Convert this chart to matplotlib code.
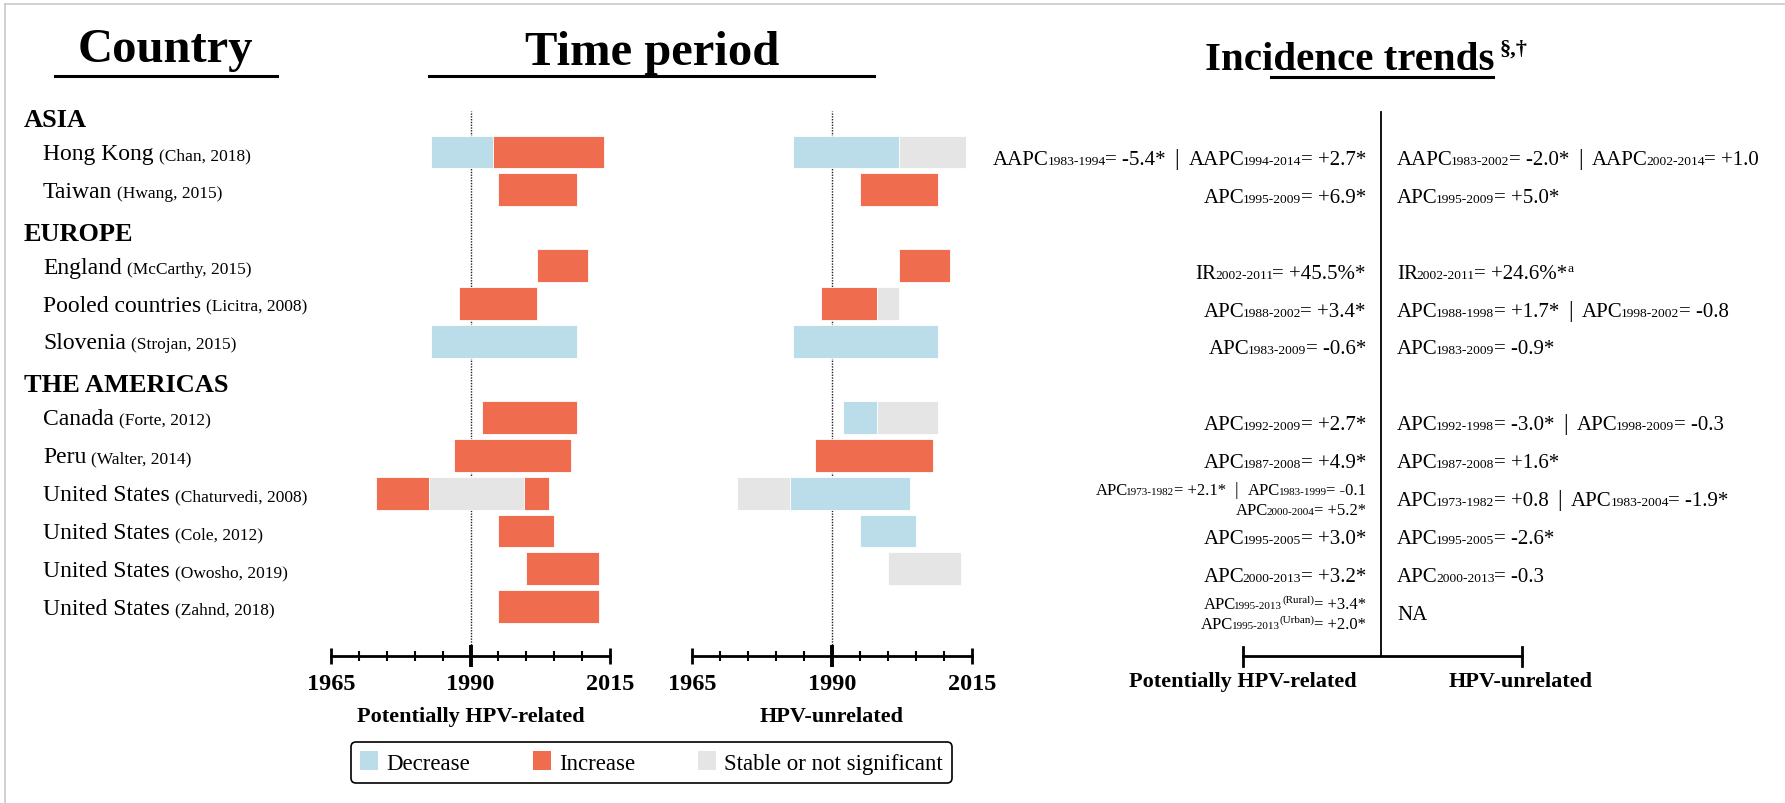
import matplotlib.pyplot as plt
from matplotlib.patches import Patch

plt.rcParams['font.family'] = ['Liberation Serif', 'DejaVu Serif']

W, H = 1785, 804

# studies grouped by region
regions = ["ASIA", "EUROPE", "THE AMERICAS"]
region_sizes = [2, 3, 6]
countries = ["Hong Kong", "Taiwan", "England", "Pooled countries", "Slovenia",
             "Canada", "Peru", "United States", "United States",
             "United States", "United States"]
citations = ["(Chan, 2018)", "(Hwang, 2015)", "(McCarthy, 2015)", "(Licitra, 2008)",
             "(Strojan, 2015)", "(Forte, 2012)", "(Walter, 2014)", "(Chaturvedi, 2008)",
             "(Cole, 2012)", "(Owosho, 2019)", "(Zahnd, 2018)"]

# (start, end, trend) segments per study
hpv_related = [
    [(1983, 1994, "dec"), (1994, 2014, "inc")],
    [(1995, 2009, "inc")],
    [(2002, 2011, "inc")],
    [(1988, 2002, "inc")],
    [(1983, 2009, "dec")],
    [(1992, 2009, "inc")],
    [(1987, 2008, "inc")],
    [(1973, 1982.5, "inc"), (1982.5, 1999.5, "ns"), (1999.5, 2004, "inc")],
    [(1995, 2005, "inc")],
    [(2000, 2013, "inc")],
    [(1995, 2013, "inc")],
]
hpv_unrelated = [
    [(1983, 2002, "dec"), (2002, 2014, "ns")],
    [(1995, 2009, "inc")],
    [(2002, 2011, "inc")],
    [(1988, 1998, "inc"), (1998, 2002, "ns")],
    [(1983, 2009, "dec")],
    [(1992, 1998, "dec"), (1998, 2009, "ns")],
    [(1987, 2008, "inc")],
    [(1973, 1982.5, "ns"), (1982.5, 2004, "dec")],
    [(1995, 2005, "dec")],
    [(2000, 2013, "ns")],
    [],
]

# (measure, years, superscript, value, trailing mark) per line
trend_related = [
    [[("AAPC", "1983-1994", "", "= -5.4*", ""), ("AAPC", "1994-2014", "", "= +2.7*", "")]],
    [[("APC", "1995-2009", "", "= +6.9*", "")]],
    [[("IR", "2002-2011", "", "= +45.5%*", "")]],
    [[("APC", "1988-2002", "", "= +3.4*", "")]],
    [[("APC", "1983-2009", "", "= -0.6*", "")]],
    [[("APC", "1992-2009", "", "= +2.7*", "")]],
    [[("APC", "1987-2008", "", "= +4.9*", "")]],
    [[("APC", "1973-1982", "", "= +2.1*", ""), ("APC", "1983-1999", "", "= -0.1", "")],
     [("APC", "2000-2004", "", "= +5.2*", "")]],
    [[("APC", "1995-2005", "", "= +3.0*", "")]],
    [[("APC", "2000-2013", "", "= +3.2*", "")]],
    [[("APC", "1995-2013", "(Rural)", "= +3.4*", "")],
     [("APC", "1995-2013", "(Urban)", "= +2.0*", "")]],
]
trend_unrelated = [
    [[("AAPC", "1983-2002", "", "= -2.0*", ""), ("AAPC", "2002-2014", "", "= +1.0", "")]],
    [[("APC", "1995-2009", "", "= +5.0*", "")]],
    [[("IR", "2002-2011", "", "= +24.6%*", "a")]],
    [[("APC", "1988-1998", "", "= +1.7*", ""), ("APC", "1998-2002", "", "= -0.8", "")]],
    [[("APC", "1983-2009", "", "= -0.9*", "")]],
    [[("APC", "1992-1998", "", "= -3.0*", ""), ("APC", "1998-2009", "", "= -0.3", "")]],
    [[("APC", "1987-2008", "", "= +1.6*", "")]],
    [[("APC", "1973-1982", "", "= +0.8", ""), ("APC", "1983-2004", "", "= -1.9*", "")]],
    [[("APC", "1995-2005", "", "= -2.6*", "")]],
    [[("APC", "2000-2013", "", "= -0.3", "")]],
    [[("NA", "", "", "", "")]],
]

year_ticks = [1965, 1990, 2015]
tick_labels = ["1965", "1990", "2015"]
colors = {"dec": "#BBDCE9", "inc": "#F06C4E", "ns": "#E5E5E5"}
legend_keys = ["dec", "inc", "ns"]
legend_labels = ["Decrease", "Increase", "Stable or not significant"]

# row slots: a header row for each region followed by its studies
region_slots, country_slots = [], []
s = 0
for n in region_sizes:
    region_slots.append(s)
    s += 1
    country_slots.extend(range(s, s + n))
    s += n


def row_px(slot):
    return 115.1 + 37.9 * slot


fig = plt.figure(figsize=(W / 100, H / 100), dpi=100)
ov = fig.add_axes([0, 0, 1, 1])
ov.set_xlim(0, W)
ov.set_ylim(H, 0)
ov.axis('off')
rend = fig.canvas.get_renderer()


def run(x, y, pieces, ha='left', **kw):
    """Lay out text pieces of mixed size side by side on one baseline."""
    pieces = [p for p in pieces if p[0]]
    arts = [ov.text(0, y - rise, t, fontsize=sz, va='baseline', ha='left', **kw)
            for t, sz, rise, gap in pieces]
    widths = [a.get_window_extent(rend).width for a in arts]
    total = sum(w + p[3] for w, p in zip(widths, pieces))
    cur = {'left': x, 'right': x - total, 'center': x - total / 2}[ha]
    for a, w, p in zip(arts, widths, pieces):
        cur += p[3]
        a.set_x(cur)
        cur += w
    return cur


def trend_pieces(line, big, small, rise):
    out = []
    for k, (meas, yrs, sup, val, post) in enumerate(line):
        gap = 0
        if k:
            out.append(("|", big * 1.1, 0, 9))
            gap = 9
        out.append((meas, big, 0, gap))
        out.append((yrs, small, 0, -1.5))
        out.append((sup, small, rise, 0))
        out.append((val, big, 0, -0.5))
        out.append((post, small, rise, 0.5))
    return out


y_top = (100 - 115.1) / 37.9
y_bot = (657 - 115.1) / 37.9


def draw_panel(x0, x1, periods, title):
    ax = fig.add_axes([x0 / W, 1 - 657 / H, (x1 - x0) / W, (657 - 100) / H])
    ax.set_xlim(1965, 2015)
    ax.set_ylim(y_bot, y_top)
    ax.patch.set_visible(False)
    for sp in ['top', 'left', 'right']:
        ax.spines[sp].set_visible(False)
    ax.spines['bottom'].set_linewidth(2)
    ax.set_yticks([])
    ax.axvline(1990, ymax=(657 - 112) / (657 - 100), color='#222222', lw=1,
               ls=(0, (1, 1)), zorder=1)
    for slot, segs in zip(country_slots, periods):
        for a, b, kind in segs:
            ax.barh(slot, b - a, left=a, height=0.87, color=colors[kind],
                    edgecolor='white', lw=0.6, zorder=2)
    ax.set_xticks(year_ticks)
    ax.set_xticklabels(tick_labels, fontweight='bold', fontsize=17.5)
    ax.set_xticks(range(1965, 2016, 5), minor=True)
    ax.tick_params(axis='x', which='major', direction='inout', length=11, width=2, pad=7)
    ax.tick_params(axis='x', which='minor', direction='inout', length=6.5, width=1.5)
    mid = ax.xaxis.get_major_ticks()[1]
    mid.tick1line.set_markersize(16)
    mid.tick1line.set_markeredgewidth(2.8)
    ov.text((x0 + x1) / 2, 722, title, ha='center', va='baseline', fontsize=16,
            fontweight='bold')


# light frame on top and left edge
ov.plot([5, W], [5, 5], color='#C8C8C8', lw=1.2)
ov.plot([5, 5], [5, H], color='#C8C8C8', lw=1.2)

# column headers
ov.text(165, 62, "Country", ha='center', va='baseline', fontsize=35, fontweight='bold')
ov.plot([55, 277], [77, 77], color='black', lw=2.2)
ov.text(652, 65, "Time period", ha='center', va='baseline', fontsize=35, fontweight='bold')
ov.plot([429, 874], [77, 77], color='black', lw=2.2)
end = run(1350, 70, [("Incidence trends", 29.5, 0, 0)], 'center', fontweight='bold')
ov.text(end + 5, 55, "§,†", fontsize=16, fontweight='bold', va='baseline')
ov.plot([1271, 1493], [78, 78], color='black', lw=2.2)

# region headers and study labels
for slot, reg in zip(region_slots, regions):
    ov.text(24, row_px(slot) + 12, reg, fontsize=19, fontweight='bold', va='baseline')
for slot, name, cite in zip(country_slots, countries, citations):
    run(43, row_px(slot) + 7, [(name, 17, 0, 0), (cite, 12.5, 0, 5)])

# time period panels
draw_panel(331, 610, hpv_related, "Potentially HPV-related")
draw_panel(692, 972, hpv_unrelated, "HPV-unrelated")


def draw_trends(trends, x, ha):
    for slot, lines in zip(country_slots, trends):
        y0 = row_px(slot)
        if len(lines) == 1:
            run(x, y0 + 12, trend_pieces(lines[0], 15, 9.7, 7), ha)
        else:
            for j, line in enumerate(lines):
                run(x, y0 + 1 + 20 * j, trend_pieces(line, 12, 8, 6), ha)


draw_trends(trend_related, 1366, 'right')
draw_trends(trend_unrelated, 1397, 'left')

# divider and bottom scale of the trends column
ov.plot([1381, 1381], [113, 657], color='black', lw=1.3)
ov.plot([1243, 1522], [657, 657], color='black', lw=2)
for xx in (1243, 1522):
    ov.plot([xx, xx], [648, 667], color='black', lw=2)
ov.text(1243, 687, "Potentially HPV-related", ha='center', va='baseline', fontsize=16,
        fontweight='bold')
ov.text(1521, 687, "HPV-unrelated", ha='center', va='baseline', fontsize=16,
        fontweight='bold')

handles = [Patch(facecolor=colors[k], edgecolor='none') for k in legend_keys]
leg = fig.legend(handles, legend_labels, loc='center',
                 bbox_to_anchor=(651.5 / W, 1 - 763.5 / H), ncol=3, fontsize=16.5,
                 frameon=True, fancybox=True, edgecolor='black', framealpha=1,
                 handlelength=0.78, handleheight=0.9, handletextpad=0.35,
                 columnspacing=2.75, borderpad=0.4)
leg.get_frame().set_linewidth(1.2)

fig.savefig("out.png", dpi=100)
